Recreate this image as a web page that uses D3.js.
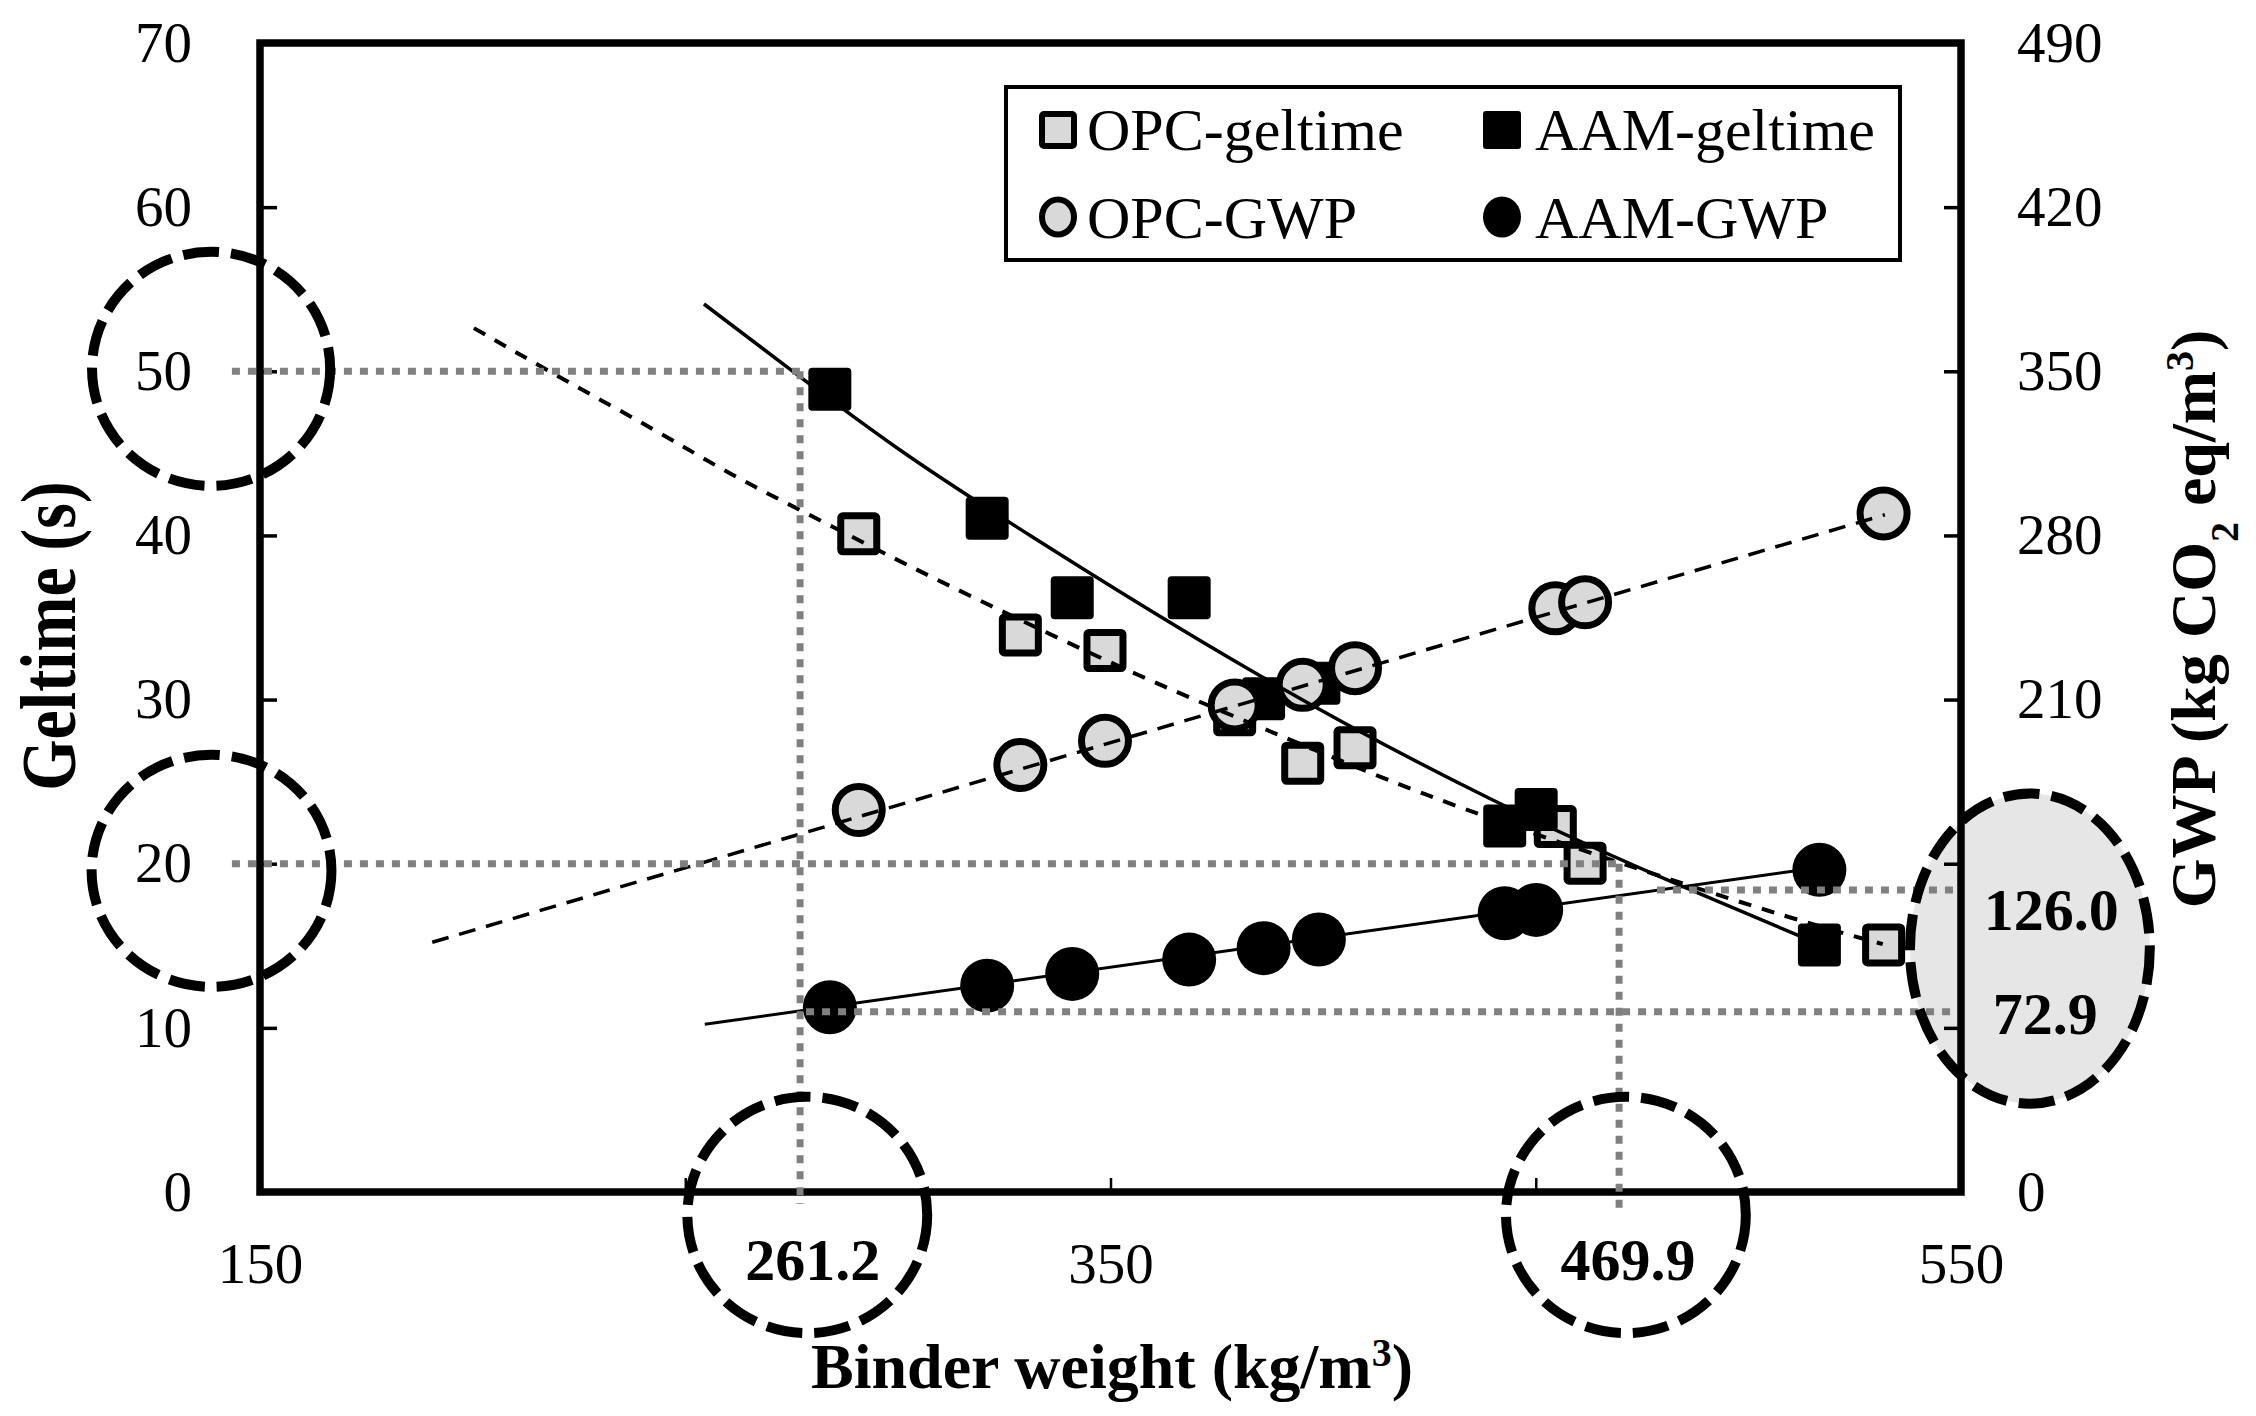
<!DOCTYPE html>
<html>
<head>
<meta charset="utf-8">
<script src="https://cdn.jsdelivr.net/npm/d3@7"></script>
<style>
  html, body { margin: 0; padding: 0; background: #fff; }
  svg { display: block; }
  text { font-family: "Liberation Serif", "Times New Roman", serif; fill: #000; }
</style>
</head>
<body>
<svg id="chart" width="2256" height="1416"></svg>
<script>
// ---------------- DATA ----------------
const binderAAM = [284, 321, 341, 368.5, 386, 399, 442.7, 450.1, 516.7];
const gelAAM    = [48.9, 41.05, 36.2, 36.2, 30.05, 31.0, 22.3, 23.3, 15.05];
const gwpAAM    = [78.8, 88.0, 93.0, 99.1, 104.0, 107.7, 118.9, 120.3, 137.4];

const binderOPC = [290.8, 328.8, 348.7, 379.2, 395.2, 407.5, 454.6, 461.6, 531.8];
const gelOPC    = [40.1, 33.94, 32.99, 29.07, 26.12, 27.06, 22.26, 20.03, 15.05];
const gwpOPC    = [162.9, 182.1, 192.4, 207.5, 216.3, 223.4, 248.9, 251.5, 289.4];

// trend lines: [binder, value]
const trendAAMGel = [[254.4,54.1],[276.2,49.8],[300.5,45.1],[326.3,40.75],[382.6,31.6],[441.5,23.48],[484.3,18.6],[516.7,15.1]];
const trendOPCGel = [[200.3,52.63],[221.3,49.5],[242.5,46.5],[261.3,43.6],[277,41.56],[300.5,38.4],[320.3,35.9],[357.4,31.3],[391,27.7],[422.2,24.3],[463.1,20.6],[508.1,16.8],[531.6,15.1]];
const trendOPCGWP = [[190.5,106.5],[532.1,288.8]];
const trendAAMGWP = [[254.6,71.5],[516.7,138.4]];

// guide (dotted) lines
const guideBinder = [277, 469.6];
const guideGel = [50, 20];
const guideGWP = [128.8, 76.9];

// axis ticks
const xTicks = [150, 250, 350, 450, 550];
const xTickLabels = [150, 350, 550];
const yLTicks = [0, 10, 20, 30, 40, 50, 60, 70];
const yRTicks = [0, 70, 140, 210, 280, 350, 420, 490];
const yRTickLabels = [0, 210, 280, 350, 420, 490];

// annotations (centre in data units, radii in data units)
const annotations = [
  {cx: 138.5, cy: 50.15, rx: 28, ry: 7.13, label: null, filled: false},
  {cx: 138.6, cy: 19.57, rx: 28.2, ry: 7.07, label: null, filled: false},
  {cx: 278.7, cy: -1.40, rx: 28.2, ry: 7.2, label: "261.2", lx: 280, ly: -5.36, filled: false},
  {cx: 471.2, cy: -1.40, rx: 28.2, ry: 7.2, label: "469.9", lx: 471.7, ly: -5.36, filled: false},
  {cx: 566.2, cy: 14.83, rx: 28.2, ry: 9.45, label: null, filled: true}
];
const ellipseLabels = [
  {text: "126.0", x: 571.2, gwp: 111.8},
  {text: "72.9", x: 569.8, gwp: 67.4}
];

const legendItems = ["OPC-geltime", "AAM-geltime", "OPC-GWP", "AAM-GWP"];

// ---------------- SCALES ----------------
const L = 260, R = 1961, T = 43, B = 1192;
const x = d3.scaleLinear().domain([150, 550]).range([L, R]);
const yL = d3.scaleLinear().domain([0, 70]).range([B, T]);
const yR = d3.scaleLinear().domain([0, 490]).range([B, T]);

const svg = d3.select("#chart");
const gray = "#d9d9d9";
const dotted = "#808080";

// filled ellipse (behind axes)
annotations.filter(a => a.filled).forEach(a => {
  svg.append("ellipse")
    .attr("cx", x(a.cx)).attr("cy", yL(a.cy))
    .attr("rx", x(a.cx + a.rx) - x(a.cx)).attr("ry", yL(a.cy) - yL(a.cy + a.ry))
    .attr("fill", "#e6e6e6").attr("stroke", "none");
});

// ---------------- AXES ----------------
const fontTick = 57;
const gx = svg.append("g").attr("transform", `translate(0,${B})`)
  .call(d3.axisBottom(x).tickValues(xTicks).tickSizeInner(-14).tickSizeOuter(0).tickPadding(51)
    .tickFormat(d => xTickLabels.includes(d) ? d : ""));
const gl = svg.append("g").attr("transform", `translate(${L},0)`)
  .call(d3.axisLeft(yL).tickValues(yLTicks).tickSizeInner(-17).tickSizeOuter(0).tickPadding(68));
const gr = svg.append("g").attr("transform", `translate(${R},0)`)
  .call(d3.axisRight(yR).tickValues(yRTicks).tickSizeInner(-17).tickSizeOuter(0).tickPadding(56)
    .tickFormat(d => yRTickLabels.includes(d) ? d : ""));
[gx, gl, gr].forEach(g => {
  g.select(".domain").remove();
  g.selectAll("text").attr("font-size", fontTick).attr("font-family", "Liberation Serif").attr("fill", "#000");
});
gx.selectAll("line").attr("stroke", "#000").attr("stroke-width", 2.5);
gl.selectAll("line").attr("stroke", "#000").attr("stroke-width", 3.5);
gr.selectAll("line").attr("stroke", "#000").attr("stroke-width", 3.5);

// frame
svg.append("rect").attr("x", L).attr("y", T).attr("width", R - L).attr("height", B - T)
  .attr("fill", "none").attr("stroke", "#000").attr("stroke-width", 7.5);

// ---------------- MARKERS ----------------
const sq = 43, sqStroke = 7, circR = 27, circStroke = 7;
const opcGelData = binderOPC.map((b, i) => ({b, v: gelOPC[i]}));
const aamGelData = binderAAM.map((b, i) => ({b, v: gelAAM[i]}));
const opcGwpData = binderOPC.map((b, i) => ({b, v: gwpOPC[i]}));
const aamGwpData = binderAAM.map((b, i) => ({b, v: gwpAAM[i]}));

svg.append("g").selectAll("rect").data(opcGelData).join("rect")
  .attr("x", d => x(d.b) - (sq - sqStroke) / 2).attr("y", d => yL(d.v) - (sq - sqStroke) / 2)
  .attr("width", sq - sqStroke).attr("height", sq - sqStroke).attr("rx", 2)
  .attr("fill", gray).attr("stroke", "#000").attr("stroke-width", sqStroke);
svg.append("g").selectAll("rect").data(aamGelData).join("rect")
  .attr("x", d => x(d.b) - sq / 2).attr("y", d => yL(d.v) - sq / 2)
  .attr("width", sq).attr("height", sq).attr("rx", 4).attr("fill", "#000");
svg.append("g").selectAll("circle").data(opcGwpData).join("circle")
  .attr("cx", d => x(d.b)).attr("cy", d => yR(d.v)).attr("r", circR - circStroke / 2)
  .attr("fill", gray).attr("stroke", "#000").attr("stroke-width", circStroke);
svg.append("g").selectAll("circle").data(aamGwpData).join("circle")
  .attr("cx", d => x(d.b)).attr("cy", d => yR(d.v)).attr("r", circR).attr("fill", "#000");

// ---------------- TREND LINES ----------------
const lineL = d3.line().x(d => x(d[0])).y(d => yL(d[1])).curve(d3.curveBasis);
const lineR = d3.line().x(d => x(d[0])).y(d => yR(d[1]));
svg.append("path").attr("d", lineL(trendAAMGel)).attr("fill", "none").attr("stroke", "#000").attr("stroke-width", 3.5);
svg.append("path").attr("d", lineL(trendOPCGel)).attr("fill", "none").attr("stroke", "#000").attr("stroke-width", 4)
  .attr("stroke-dasharray", "13 11");
svg.append("path").attr("d", lineR(trendOPCGWP)).attr("fill", "none").attr("stroke", "#000").attr("stroke-width", 3.5)
  .attr("stroke-dasharray", "17 11");
svg.append("path").attr("d", lineR(trendAAMGWP)).attr("fill", "none").attr("stroke", "#000").attr("stroke-width", 3);

// ---------------- DOTTED GUIDES ----------------
const gd = svg.append("g").attr("stroke", dotted).attr("stroke-width", 7).attr("stroke-dasharray", "8 8").attr("fill", "none");
const xStart = 143.4;
// horizontal from left to verticals
guideGel.forEach((g, i) => {
  gd.append("line").attr("x1", x(xStart)).attr("x2", x(guideBinder[i])).attr("y1", yL(g)).attr("y2", yL(g));
});
// verticals down below the axis
gd.append("line").attr("x1", x(guideBinder[0])).attr("x2", x(guideBinder[0])).attr("y1", yL(guideGel[0])).attr("y2", yL(-0.73));
gd.append("line").attr("x1", x(guideBinder[1])).attr("x2", x(guideBinder[1])).attr("y1", yL(guideGel[1])).attr("y2", yL(-1.2));
// GWP horizontals to the right axis
gd.append("line").attr("x1", x(478.5)).attr("x2", R - 6).attr("y1", yR(guideGWP[0])).attr("y2", yR(guideGWP[0]));
gd.append("line").attr("x1", x(guideBinder[0]) + 6).attr("x2", R - 6).attr("y1", yR(guideGWP[1])).attr("y2", yR(guideGWP[1]));

// ---------------- DASHED ELLIPSES ----------------
annotations.forEach(a => {
  svg.append("ellipse")
    .attr("cx", x(a.cx)).attr("cy", yL(a.cy))
    .attr("rx", x(a.cx + a.rx) - x(a.cx)).attr("ry", yL(a.cy) - yL(a.cy + a.ry))
    .attr("fill", "none").attr("stroke", "#000").attr("stroke-width", 10)
    .attr("stroke-dasharray", "36 12");
  if (a.label) {
    svg.append("text").attr("x", x(a.lx)).attr("y", yL(a.ly))
      .attr("text-anchor", "middle").attr("font-weight", "bold").attr("font-size", 60).text(a.label);
  }
});
ellipseLabels.forEach(l => {
  svg.append("text").attr("x", x(l.x)).attr("y", yR(l.gwp))
    .attr("text-anchor", "middle").attr("font-weight", "bold").attr("font-size", 60).text(l.text);
});

// ---------------- LEGEND ----------------
const lg = svg.append("g");
lg.append("rect").attr("x", 1006).attr("y", 87).attr("width", 894).attr("height", 173)
  .attr("fill", "#fff").attr("stroke", "#000").attr("stroke-width", 4);
const legPos = [
  {mx: 1058, my: 130, tx: 1087, ty: 150},
  {mx: 1502, my: 130, tx: 1535, ty: 150},
  {mx: 1058, my: 217, tx: 1087, ty: 238},
  {mx: 1502, my: 217, tx: 1535, ty: 238}
];
// OPC-geltime
lg.append("rect").attr("x", legPos[0].mx - 16).attr("y", legPos[0].my - 16).attr("width", 32).attr("height", 32).attr("rx", 2)
  .attr("fill", gray).attr("stroke", "#000").attr("stroke-width", 6);
// AAM-geltime
lg.append("rect").attr("x", legPos[1].mx - 19).attr("y", legPos[1].my - 19).attr("width", 38).attr("height", 38).attr("rx", 3)
  .attr("fill", "#000");
// OPC-GWP
lg.append("ellipse").attr("cx", legPos[2].mx).attr("cy", legPos[2].my).attr("rx", 16).attr("ry", 17.5)
  .attr("fill", gray).attr("stroke", "#000").attr("stroke-width", 6);
// AAM-GWP
lg.append("ellipse").attr("cx", legPos[3].mx).attr("cy", legPos[3].my).attr("rx", 19).attr("ry", 20.5).attr("fill", "#000");
legendItems.forEach((t, i) => {
  lg.append("text").attr("x", legPos[i].tx).attr("y", legPos[i].ty).attr("font-size", 60).text(t);
});

// ---------------- AXIS TITLES ----------------
svg.append("text").attr("transform", "translate(75,636) rotate(-90) scale(1,1.18)")
  .attr("text-anchor", "middle").attr("font-weight", "bold").attr("font-size", 66).text("Geltime (s)");

const tb = svg.append("text").attr("x", 1112).attr("y", 1388)
  .attr("text-anchor", "middle").attr("font-weight", "bold").attr("font-size", 64);
tb.append("tspan").text("Binder weight (kg/m");
tb.append("tspan").attr("baseline-shift", "super").attr("font-size", 40).text("3");
tb.append("tspan").text(")");

const tr = svg.append("text").attr("transform", "translate(2215,619) rotate(-90)")
  .attr("text-anchor", "middle").attr("font-weight", "bold").attr("font-size", 64);
tr.append("tspan").text("GWP (kg CO");
tr.append("tspan").attr("baseline-shift", "sub").attr("font-size", 40).text("2");
tr.append("tspan").text(" eq/m");
tr.append("tspan").attr("baseline-shift", "super").attr("font-size", 40).text("3");
tr.append("tspan").text(")");
</script>
</body>
</html>
